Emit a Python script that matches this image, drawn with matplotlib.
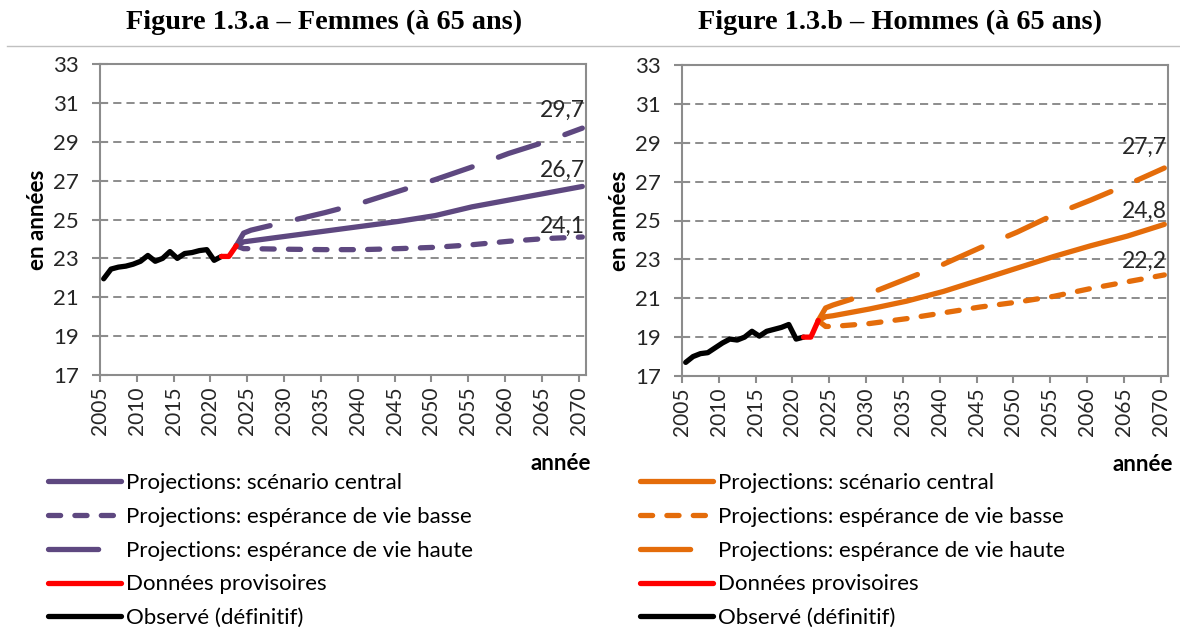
import matplotlib
matplotlib.use("Agg")
import matplotlib.pyplot as plt
from matplotlib.lines import Line2D

plt.rcParams['font.family'] = ['Lato', 'DejaVu Sans']

# observed (definitive) data
obs_years = list(range(2005, 2022))
obs_f = [21.95, 22.45, 22.55, 22.6, 22.7, 22.85, 23.15, 22.85, 23.0, 23.35,
         23.0, 23.25, 23.3, 23.4, 23.45, 22.9, 23.1]
obs_h = [17.7, 18.0, 18.15, 18.2, 18.45, 18.7, 18.9, 18.85, 19.0, 19.3,
         19.05, 19.3, 19.4, 19.5, 19.65, 18.9, 19.0]

# provisional data
prov_years = [2021, 2022, 2023]
prov_f = [23.1, 23.1, 23.65]
prov_h = [19.0, 19.0, 19.85]

# projections
proj_years = [2023, 2024, 2025, 2030, 2035, 2040, 2045, 2050, 2055, 2060, 2065, 2070]
central_f = [23.65, 23.85, 23.9, 24.15, 24.4, 24.65, 24.9, 25.2, 25.65, 26.0, 26.35, 26.7]
basse_f = [23.65, 23.5, 23.5, 23.47, 23.45, 23.45, 23.5, 23.57, 23.7, 23.88, 24.02, 24.1]
haute_f = [23.65, 24.3, 24.45, 24.9, 25.35, 25.85, 26.45, 27.05, 27.7, 28.4, 29.0, 29.7]
central_h = [19.85, 20.05, 20.1, 20.45, 20.85, 21.35, 21.95, 22.55, 23.15, 23.7, 24.2, 24.8]
basse_h = [19.85, 19.55, 19.55, 19.7, 19.95, 20.25, 20.55, 20.8, 21.1, 21.5, 21.85, 22.2]
haute_h = [19.85, 20.5, 20.65, 21.25, 22.0, 22.75, 23.6, 24.4, 25.3, 26.05, 26.85, 27.7]

tick_years = list(range(2005, 2071, 5))
titles = ["Figure 1.3.a \u2013 Femmes (\u00e0 65 ans)", "Figure 1.3.b \u2013 Hommes (\u00e0 65 ans)"]
legend_labels = ["Projections: sc\u00e9nario central",
                 "Projections: esp\u00e9rance de vie basse",
                 "Projections: esp\u00e9rance de vie haute",
                 "Donn\u00e9es provisoires",
                 "Observ\u00e9 (d\u00e9finitif)"]

PURPLE = "#5e4880"
ORANGE = "#e46c0a"
GRID = "#8c8c8c"
LW = 3.8
DASH_HAUTE = (8.0, 5.3)
DASH_BASSE = (2.3, 2.7)

fig = plt.figure(figsize=(11.8, 6.33), dpi=100)

# thin rule under the titles
fig.add_artist(Line2D([7 / 1180, 1.0], [1 - 46 / 633] * 2, color="#c0c0c0", lw=1))

panels = [
    (100, 375, PURPLE, obs_f, prov_f, central_f, basse_f, haute_f, [13, 11.5, 7.5], 324),
    (682, 376, ORANGE, obs_h, prov_h, central_h, basse_h, haute_h, [15, 9.5, 9.5], 900),
]

for i, (x0, y0, col, obs, prov, cen, bas, hau, offs, tx) in enumerate(panels):
    ax = fig.add_axes([x0 / 1180, 1 - y0 / 633, 486 / 1180, 311 / 633])
    ax.set_xlim(2004.5, 2070.5)
    ax.set_ylim(17, 33)
    ax.set_yticks(range(17, 34, 2))
    ax.set_xticks([y - 0.5 for y in tick_years])
    ax.set_xticklabels([str(y) for y in tick_years], rotation=90)
    for yv in range(19, 34, 2):
        ax.axhline(yv, color=GRID, lw=1.4, dashes=(4.2, 2.6), zorder=1)
    for s in ax.spines.values():
        s.set_color(GRID)
        s.set_linewidth(1.5)
    ax.tick_params(axis='y', direction='inout', length=12, width=1.5, color=GRID,
                   labelsize=16, labelcolor="#262626", pad=9)
    ax.tick_params(axis='x', direction='out', length=5, width=1.5, color=GRID,
                   labelsize=15, labelcolor="#262626", pad=3)

    kw = dict(lw=LW, solid_capstyle='round', dash_capstyle='round', zorder=3)
    ax.plot(proj_years, hau, color=col, dashes=DASH_HAUTE, **kw)
    ax.plot(proj_years, bas, color=col, dashes=DASH_BASSE, **kw)
    ax.plot(proj_years, cen, color=col, **kw)
    ax.plot(obs_years, obs, color="black", **kw)
    ax.plot(prov_years, prov, color="red", **kw)

    for series, off in zip([hau, cen, bas], offs):
        ax.annotate(f"{series[-1]:.1f}".replace(".", ","), (2070.3, series[-1]),
                    xytext=(0, off), textcoords="offset points", ha="right", va="center",
                    fontsize=16.5, color="#262626", zorder=4)

    ax.set_ylabel("en ann\u00e9es", fontsize=16, fontweight="bold", labelpad=4)
    ax.text(1.01, -0.285, "ann\u00e9e", transform=ax.transAxes, ha="right", va="center",
            fontsize=16, fontweight="bold")

    fig.text(tx / 1180, 1 - 22 / 633, titles[i], ha="center", va="center",
             fontsize=20.3, fontweight="bold", family="Liberation Serif")

    handles = [
        Line2D([], [], color=col, lw=LW, solid_capstyle='round'),
        Line2D([], [], color=col, lw=LW, dashes=DASH_BASSE, dash_capstyle='round'),
        Line2D([], [], color=col, lw=LW, dashes=(9.5, 12), dash_capstyle='round'),
        Line2D([], [], color="red", lw=LW, solid_capstyle='round'),
        Line2D([], [], color="black", lw=LW, solid_capstyle='round'),
    ]
    lx = 48 if i == 0 else 640
    fig.legend(handles, legend_labels, loc="upper left",
               bbox_to_anchor=(lx / 1180, 1 - 473 / 633), frameon=False,
               fontsize=16, handlelength=3.3, handletextpad=0.2, labelspacing=0.62,
               borderpad=0, borderaxespad=0)

fig.savefig("out.png", dpi=100)
